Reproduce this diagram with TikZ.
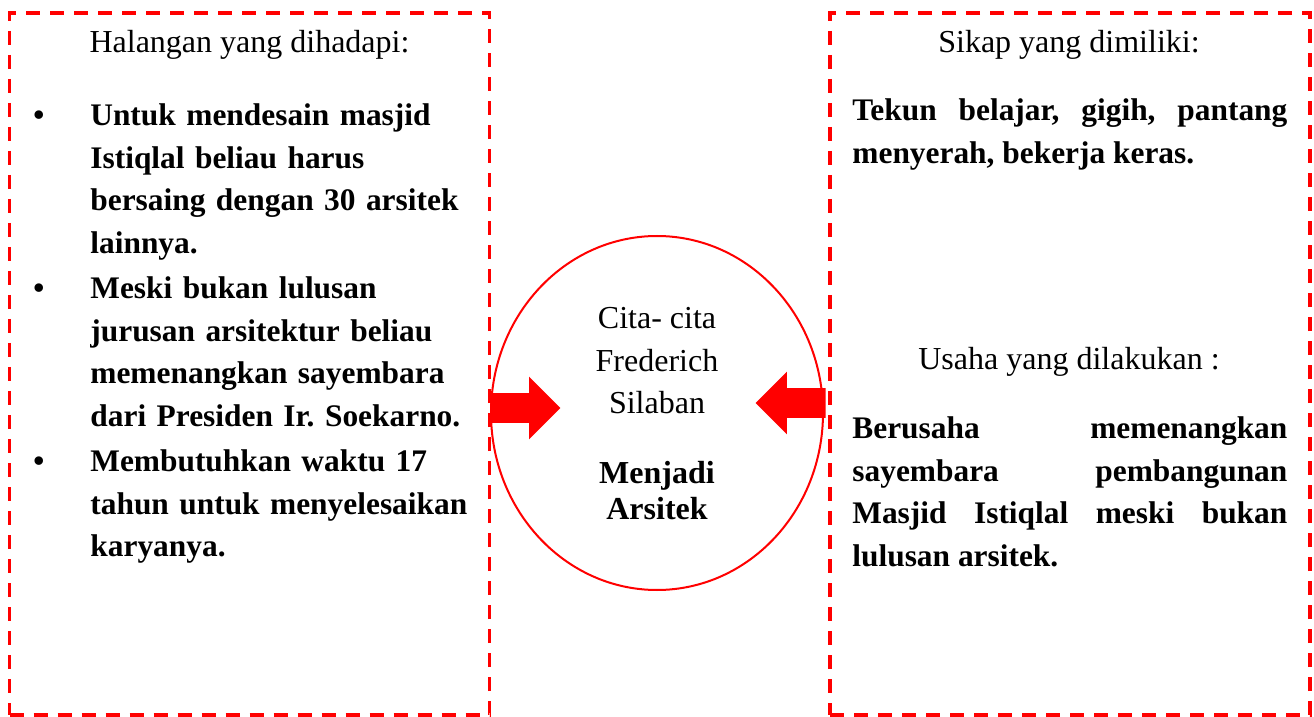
\documentclass[tikz,border=0pt]{standalone}
\usepackage{fontspec}
\setmainfont{Liberation Serif}
\usetikzlibrary{shapes.geometric,shapes.arrows}

\newcommand{\itembullet}{\leavevmode\llap{\textbullet\hspace{23pt}}}

\begin{document}
\begin{tikzpicture}[x=0.5pt,y=-0.5pt,
    dashbox/.style={draw=red,line width=1.7pt,dash pattern=on 7pt off 5pt,
      minimum width=240pt,minimum height=351pt,inner sep=0pt},
    title/.style={font=\fontsize{16}{21.25}\selectfont,anchor=base,inner sep=0pt},
    body/.style={font=\fontsize{15.7}{21.25}\selectfont\bfseries\frenchspacing,inner sep=0pt,anchor=north west},
    blockarrow/.style={single arrow,fill=red,minimum height=35pt,minimum width=31pt,
      single arrow head extend=8.25pt,single arrow head indent=0pt,inner xsep=0pt,inner ysep=7.25pt}]
    \useasboundingbox (0,0) rectangle (1314,717);
    \node [dashbox] (obstacles) at (249.5,364) {};
    \node [dashbox] (attitudes) at (1070,364) {};
    \node [ellipse,draw=red,line width=1pt,minimum width=166pt,minimum height=177pt,inner sep=0pt] (dream) at (657,413) {};
    \node [blockarrow] (leftarrow) at (518,408) {};
    \node [blockarrow,shape border rotate=180] (rightarrow) at (798,403) {};
    \node [title] (obstaclestitle) at (249.5,53) {Halangan yang dihadapi:};
    \node [body,text width=200pt,align=left] (obstaclelist) at (90,103.5)
      {\itembullet Untuk mendesain masjid\\
       Istiqlal beliau harus\\
       bersaing dengan 30 arsitek\\
       lainnya.\\[1.5pt]
       \itembullet Meski bukan lulusan\\
       jurusan arsitektur beliau\\
       memenangkan sayembara\\
       dari Presiden Ir. Soekarno.\\[1.5pt]
       \itembullet Membutuhkan waktu 17\\
       tahun untuk menyelesaikan\\
       karyanya.};
    \node [title] (attitudestitle) at (1069,53) {Sikap yang dimiliki:};
    \node [body,text width=217.5pt,align=justify] (attitudelist) at (852,98.5)
      {\hyphenpenalty=10000 Tekun belajar, gigih, pantang\linebreak menyerah, bekerja keras.};
    \node [title] (effortstitle) at (1069,370) {Usaha yang dilakukan :};
    \node [body,text width=217.5pt,align=justify] (effortlist) at (852,416.5)
      {\hyphenpenalty=10000 \tolerance=10000 Berusaha memenangkan\linebreak sayembara pembangunan\linebreak Masjid Istiqlal meski bukan\linebreak lulusan arsitek.};
    \node [font=\fontsize{16}{21.25}\selectfont,align=center,anchor=north,inner sep=0pt] (dreamtitle) at (657,307)
      {Cita- cita\\ Frederich\\ Silaban};
    \node [font=\fontsize{16}{18}\selectfont\bfseries,align=center,anchor=north,inner sep=0pt] (dreamgoal) at (657,460.5)
      {Menjadi\\ Arsitek};
\end{tikzpicture}
\end{document}
